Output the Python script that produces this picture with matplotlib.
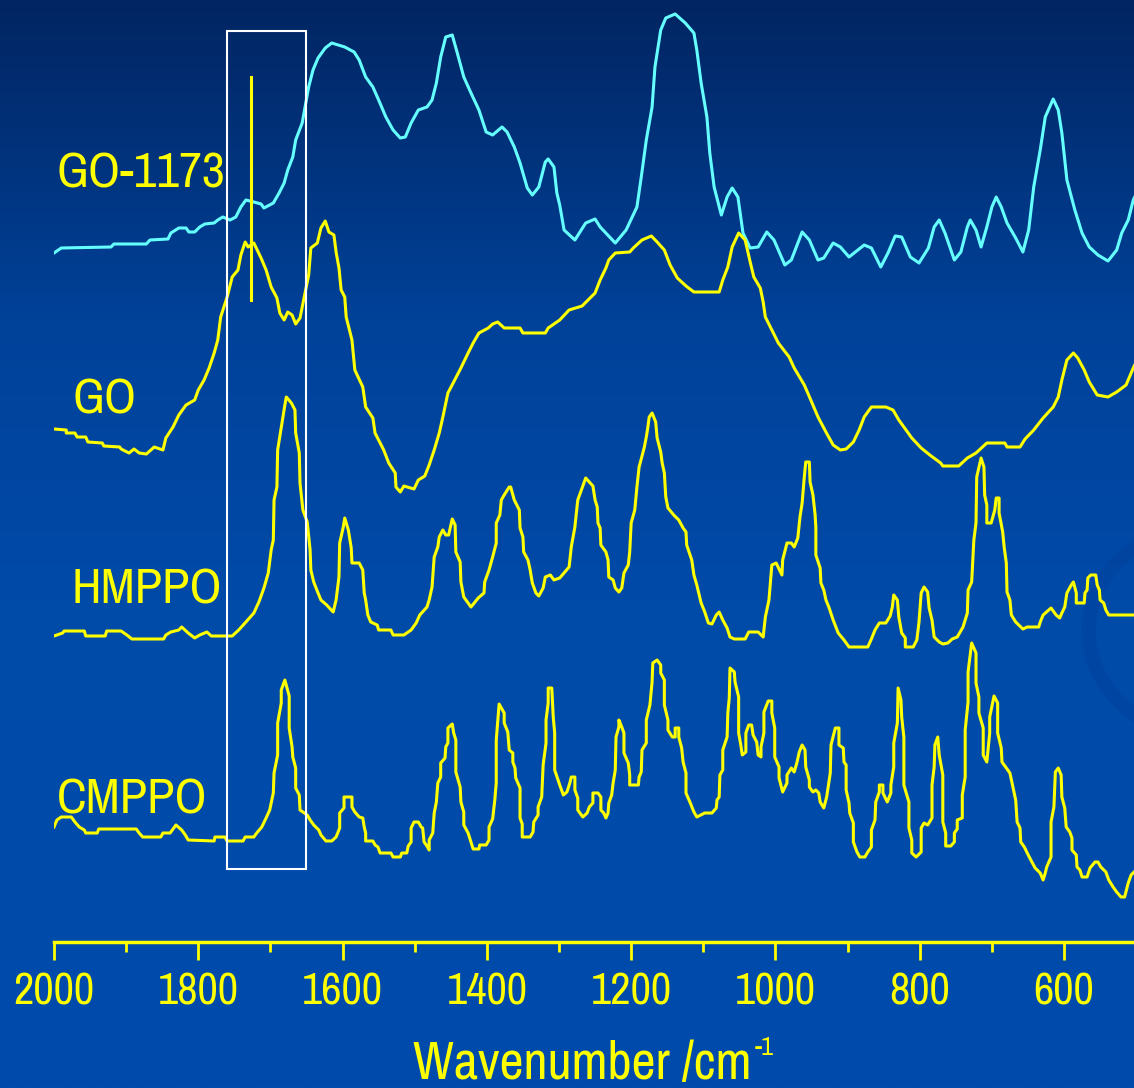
import numpy as np
import matplotlib.pyplot as plt
from matplotlib.colors import LinearSegmentedColormap
from matplotlib.patches import Rectangle, Ellipse

# FTIR spectra, stacked; (wavenumber cm-1, offset intensity a.u.)
go1173 = [(2000, 689), (1990, 694), (1921, 695), (1917, 698), (1872, 698), (1867, 702), (1842, 703), (1838, 709),
          (1827, 714), (1817, 714), (1813, 710), (1805, 710), (1798, 715), (1791, 718), (1778, 719), (1773, 722),
          (1766, 725), (1756, 722), (1748, 725), (1741, 735), (1734, 742), (1723, 740), (1713, 738), (1709, 734),
          (1696, 739), (1688, 749), (1681, 759), (1676, 772), (1669, 785), (1665, 802), (1656, 819), (1652, 835),
          (1647, 855), (1641, 872), (1634, 884), (1624, 894), (1615, 899), (1597, 895), (1584, 890), (1577, 882),
          (1568, 865), (1558, 855), (1550, 842), (1540, 825), (1530, 812), (1520, 804), (1513, 805), (1505, 819),
          (1495, 832), (1483, 835), (1476, 842), (1470, 859), (1464, 885), (1457, 905), (1448, 907), (1441, 889),
          (1432, 865), (1422, 849), (1411, 832), (1401, 810), (1392, 807), (1379, 815), (1372, 810), (1362, 795),
          (1354, 779), (1344, 754), (1337, 747), (1328, 755), (1319, 780), (1315, 783), (1307, 775), (1303, 749),
          (1299, 737), (1293, 712), (1278, 702), (1263, 719), (1250, 723), (1243, 715), (1222, 699), (1207, 712),
          (1192, 735), (1186, 765), (1179, 802), (1171, 835), (1167, 875), (1159, 912), (1152, 924), (1139, 928),
          (1125, 919), (1113, 909), (1109, 892), (1103, 859), (1095, 825), (1091, 789), (1085, 755), (1075, 727),
          (1067, 745), (1060, 754), (1052, 745), (1045, 709), (1035, 694), (1024, 695), (1012, 710), (1002, 702),
          (987, 677), (978, 682), (963, 710), (953, 702), (941, 682), (933, 684), (920, 699), (910, 695),
          (898, 685), (877, 697), (867, 694), (854, 675), (844, 689), (834, 706), (825, 705), (813, 685),
          (801, 679), (788, 694), (780, 715), (773, 722), (765, 709), (752, 682), (743, 690), (734, 715),
          (730, 722), (722, 712), (715, 695), (707, 715), (700, 735), (694, 745), (687, 735), (679, 719),
          (667, 704), (657, 690), (649, 712), (642, 755), (633, 792), (626, 825), (615, 843), (608, 832),
          (603, 809), (596, 762), (585, 732), (575, 709), (565, 695), (553, 687), (539, 681), (527, 692),
          (520, 709), (511, 722), (504, 742), (500, 748)]

go = [(2000, 513), (1983, 512), (1983, 509), (1971, 509), (1968, 505), (1956, 505), (1953, 500), (1933, 499),
      (1931, 496), (1909, 495), (1907, 493), (1896, 489), (1889, 493), (1882, 489), (1872, 488), (1861, 495),
      (1849, 492), (1845, 504), (1835, 515), (1827, 527), (1817, 537), (1805, 542), (1800, 552), (1792, 562),
      (1785, 574), (1778, 589), (1773, 602), (1769, 625), (1760, 645), (1753, 665), (1745, 672), (1741, 687),
      (1735, 700), (1731, 695), (1723, 699), (1713, 684), (1706, 672), (1699, 655), (1691, 644), (1687, 629),
      (1681, 622), (1676, 630), (1670, 627), (1665, 618), (1659, 624), (1652, 649), (1647, 667), (1644, 694),
      (1635, 699), (1630, 714), (1624, 721), (1619, 710), (1612, 707), (1609, 690), (1605, 674), (1602, 652),
      (1597, 645), (1595, 625), (1587, 602), (1583, 572), (1572, 555), (1568, 535), (1558, 524), (1555, 509),
      (1543, 492), (1536, 479), (1527, 469), (1526, 455), (1520, 450), (1515, 456), (1501, 453), (1495, 462),
      (1486, 466), (1480, 477), (1473, 492), (1466, 509), (1461, 525), (1454, 549), (1446, 560), (1436, 574),
      (1426, 589), (1419, 599), (1411, 609), (1398, 614), (1392, 618), (1385, 620), (1376, 614), (1354, 614),
      (1350, 609), (1319, 609), (1315, 614), (1299, 622), (1286, 632), (1268, 636), (1250, 649), (1243, 662),
      (1235, 674), (1231, 682), (1222, 689), (1202, 690), (1197, 694), (1185, 702), (1172, 706), (1164, 700),
      (1154, 692), (1146, 677), (1136, 664), (1124, 656), (1113, 650), (1078, 650), (1073, 662), (1066, 675),
      (1060, 695), (1051, 709), (1042, 702), (1035, 680), (1030, 665), (1021, 654), (1017, 640), (1014, 625),
      (1005, 612), (996, 599), (981, 585), (974, 574), (960, 557), (951, 542), (941, 525), (930, 510),
      (920, 497), (910, 492), (902, 493), (892, 500), (884, 512), (877, 525), (867, 535), (847, 535),
      (837, 532), (829, 522), (819, 512), (811, 504), (798, 494), (786, 487), (771, 479), (768, 476),
      (746, 476), (734, 484), (722, 489), (707, 499), (682, 499), (679, 495), (661, 495), (654, 503),
      (642, 512), (629, 524), (615, 535), (608, 545), (603, 562), (596, 582), (587, 589), (581, 584),
      (572, 572), (565, 560), (554, 547), (539, 545), (527, 550), (514, 557), (504, 574), (500, 580)]

hmppo = [(2000, 306), (1988, 309), (1986, 311), (1958, 311), (1956, 306), (1929, 306), (1927, 311), (1907, 311),
         (1899, 307), (1892, 303), (1848, 303), (1845, 307), (1838, 310), (1827, 312), (1823, 315), (1814, 309),
         (1805, 304), (1798, 307), (1788, 310), (1782, 306), (1753, 306), (1744, 312), (1734, 320), (1723, 329),
         (1716, 340), (1709, 354), (1703, 369), (1699, 392), (1696, 402), (1695, 442), (1691, 455), (1690, 492),
         (1684, 519), (1680, 537), (1678, 545), (1671, 539), (1666, 532), (1665, 509), (1660, 489), (1659, 459),
         (1655, 432), (1649, 420), (1645, 392), (1644, 372), (1640, 360), (1634, 349), (1630, 342), (1622, 337),
         (1613, 330), (1609, 342), (1605, 365), (1604, 399), (1599, 415), (1597, 424), (1592, 412), (1588, 394),
         (1587, 379), (1577, 379), (1572, 372), (1570, 349), (1568, 342), (1565, 327), (1561, 320), (1552, 317),
         (1550, 312), (1533, 312), (1530, 307), (1515, 307), (1505, 312), (1498, 319), (1493, 327), (1483, 335),
         (1480, 342), (1476, 355), (1473, 385), (1468, 395), (1466, 405), (1461, 412), (1457, 407), (1453, 407),
         (1448, 423), (1444, 417), (1443, 390), (1437, 380), (1436, 360), (1432, 345), (1422, 335), (1412, 344),
         (1404, 349), (1403, 360), (1397, 372), (1392, 385), (1387, 399), (1387, 419), (1382, 427), (1380, 442),
         (1376, 447), (1369, 455), (1367, 455), (1362, 442), (1355, 432), (1354, 414), (1350, 405), (1349, 390),
         (1343, 382), (1340, 372), (1337, 359), (1332, 349), (1328, 346), (1322, 354), (1319, 365), (1312, 367),
         (1307, 362), (1299, 364), (1286, 375), (1283, 395), (1278, 415), (1274, 442), (1268, 454), (1263, 464),
         (1253, 456), (1250, 442), (1247, 435), (1246, 419), (1243, 414), (1242, 397), (1235, 390), (1232, 382),
         (1231, 365), (1225, 362), (1222, 354), (1217, 350), (1213, 354), (1210, 369), (1204, 377), (1202, 390),
         (1200, 419), (1195, 432), (1192, 455), (1189, 475), (1182, 494), (1179, 505), (1177, 514), (1175, 525),
         (1171, 529), (1166, 520), (1164, 504), (1159, 490), (1157, 479), (1154, 469), (1152, 445), (1149, 434),
         (1141, 427), (1134, 422), (1128, 414), (1124, 410), (1123, 397), (1116, 382), (1113, 367), (1109, 357),
         (1103, 339), (1098, 330), (1093, 319), (1088, 318), (1082, 327), (1078, 330), (1073, 322), (1067, 314),
         (1063, 305), (1057, 303), (1042, 303), (1037, 310), (1024, 310), (1017, 305), (1014, 325), (1009, 342),
         (1005, 377), (999, 379), (991, 367), (990, 382), (984, 399), (978, 399), (974, 395), (969, 404),
         (966, 425), (963, 439), (960, 465), (958, 480), (953, 480), (952, 460), (948, 447), (945, 427),
         (944, 415), (944, 387), (938, 374), (937, 359), (933, 352), (930, 342), (926, 335), (920, 322),
         (913, 309), (905, 302), (898, 295), (872, 295), (867, 303), (862, 312), (856, 319), (847, 319),
         (841, 326), (838, 335), (836, 347), (831, 342), (829, 325), (825, 309), (820, 304), (820, 295),
         (809, 295), (804, 302), (801, 320), (798, 349), (794, 355), (789, 350), (787, 334), (783, 322),
         (780, 305), (773, 300), (768, 298), (761, 299), (755, 303), (748, 305), (740, 315), (734, 329),
         (733, 352), (728, 360), (725, 402), (722, 419), (721, 465), (715, 484), (711, 475), (710, 447),
         (707, 437), (707, 419), (701, 419), (696, 432), (694, 444), (690, 444), (690, 429), (685, 410),
         (683, 395), (680, 379), (679, 350), (675, 342), (673, 327), (667, 320), (657, 313), (651, 315),
         (635, 315), (633, 320), (629, 327), (618, 334), (611, 327), (606, 324), (603, 329), (599, 335),
         (596, 349), (590, 357), (587, 360), (583, 349), (583, 339), (572, 339), (571, 349), (568, 352),
         (567, 364), (563, 367), (556, 367), (554, 357), (551, 352), (550, 342), (545, 339), (542, 332),
         (538, 327), (500, 327)]

cmppo = [(2000, 115), (1996, 122), (1990, 125), (1976, 125), (1971, 120), (1965, 115), (1958, 112), (1956, 109),
         (1940, 109), (1938, 113), (1886, 113), (1882, 109), (1877, 105), (1852, 105), (1849, 109), (1839, 109),
         (1831, 117), (1823, 112), (1818, 107), (1814, 102), (1778, 101), (1777, 105), (1763, 105), (1760, 101),
         (1738, 101), (1735, 105), (1723, 105), (1719, 109), (1712, 115), (1706, 124), (1701, 132), (1696, 149),
         (1695, 169), (1690, 187), (1690, 219), (1685, 239), (1685, 252), (1680, 262), (1674, 246), (1674, 214),
         (1670, 195), (1669, 185), (1665, 174), (1665, 154), (1660, 147), (1659, 132), (1653, 129), (1649, 127),
         (1645, 122), (1640, 117), (1633, 112), (1630, 107), (1623, 101), (1615, 101), (1609, 105), (1604, 114),
         (1604, 129), (1598, 134), (1598, 145), (1587, 145), (1587, 135), (1583, 130), (1577, 125), (1572, 124),
         (1570, 115), (1568, 109), (1568, 101), (1558, 101), (1555, 97), (1551, 95), (1548, 89), (1533, 89),
         (1530, 85), (1520, 85), (1518, 89), (1511, 89), (1509, 96), (1505, 100), (1505, 114), (1501, 120),
         (1495, 120), (1491, 115), (1489, 114), (1487, 100), (1483, 96), (1480, 92), (1480, 102), (1475, 109),
         (1473, 129), (1470, 140), (1468, 159), (1464, 165), (1464, 179), (1458, 184), (1457, 195), (1454, 199),
         (1454, 214), (1448, 218), (1446, 209), (1443, 202), (1443, 170), (1437, 155), (1436, 140), (1432, 130),
         (1432, 117), (1426, 109), (1423, 102), (1419, 93), (1411, 93), (1410, 97), (1401, 97), (1397, 102),
         (1397, 115), (1392, 123), (1389, 142), (1387, 159), (1387, 202), (1383, 238), (1376, 229), (1376, 219),
         (1371, 210), (1369, 192), (1364, 189), (1364, 180), (1361, 174), (1360, 164), (1354, 154), (1354, 124),
         (1351, 118), (1351, 105), (1340, 105), (1336, 110), (1335, 120), (1329, 127), (1329, 135), (1324, 145),
         (1322, 177), (1318, 199), (1318, 222), (1315, 239), (1315, 254), (1310, 254), (1308, 225), (1306, 209),
         (1306, 172), (1299, 157), (1294, 147), (1289, 150), (1285, 159), (1283, 165), (1278, 165), (1278, 152),
         (1274, 144), (1274, 132), (1267, 125), (1261, 129), (1258, 135), (1253, 139), (1253, 149), (1246, 149),
         (1242, 145), (1242, 132), (1238, 129), (1235, 124), (1232, 129), (1231, 139), (1227, 147), (1225, 159),
         (1222, 172), (1221, 205), (1217, 215), (1217, 222), (1213, 215), (1210, 209), (1210, 189), (1204, 179),
         (1202, 167), (1202, 157), (1190, 157), (1189, 165), (1186, 170), (1185, 192), (1179, 199), (1179, 222),
         (1174, 237), (1171, 260), (1170, 279), (1164, 282), (1159, 277), (1159, 269), (1154, 262), (1154, 237),
         (1149, 222), (1149, 212), (1143, 205), (1139, 205), (1139, 214), (1134, 214), (1134, 205), (1130, 194),
         (1128, 180), (1124, 169), (1124, 149), (1118, 139), (1113, 130), (1109, 125), (1098, 129), (1088, 129),
         (1082, 134), (1081, 142), (1078, 145), (1077, 167), (1073, 172), (1073, 192), (1067, 205), (1066, 229),
         (1064, 244), (1063, 274), (1057, 270), (1056, 260), (1051, 245), (1051, 209), (1048, 197), (1046, 187),
         (1041, 190), (1041, 209), (1037, 217), (1033, 217), (1031, 207), (1026, 200), (1024, 187), (1020, 185),
         (1020, 195), (1016, 209), (1016, 230), (1010, 241), (1005, 241), (1005, 229), (1001, 214), (1001, 185),
         (995, 175), (995, 164), (990, 150), (984, 159), (984, 167), (978, 174), (974, 170), (970, 180),
         (967, 190), (963, 197), (959, 192), (958, 175), (953, 162), (953, 155), (948, 150), (944, 152),
         (940, 149), (938, 140), (933, 134), (929, 145), (924, 169), (923, 197), (917, 214), (912, 214),
         (912, 197), (906, 194), (905, 180), (902, 177), (902, 152), (898, 139), (897, 129), (892, 119),
         (892, 100), (887, 90), (883, 85), (876, 85), (872, 90), (867, 95), (867, 112), (862, 122),
         (861, 140), (856, 150), (856, 157), (851, 157), (851, 149), (845, 140), (840, 149), (840, 157),
         (836, 175), (836, 199), (831, 219), (830, 254), (826, 242), (825, 225), (822, 205), (822, 157),
         (815, 140), (815, 114), (811, 102), (811, 89), (805, 85), (798, 90), (798, 114), (794, 119),
         (789, 117), (783, 124), (783, 157), (780, 175), (779, 197), (775, 205), (773, 187), (768, 167),
         (768, 120), (764, 109), (764, 96), (757, 96), (752, 100), (752, 109), (748, 113), (748, 122),
         (741, 124), (741, 147), (737, 165), (737, 212), (733, 240), (733, 270), (728, 299), (722, 289),
         (722, 259), (718, 245), (718, 229), (712, 214), (712, 187), (707, 180), (705, 194), (703, 209),
         (703, 225), (697, 246), (692, 239), (692, 209), (687, 194), (686, 180), (680, 174), (675, 169),
         (672, 159), (667, 142), (665, 120), (661, 114), (660, 100), (655, 95), (651, 89), (646, 82),
         (640, 74), (633, 69), (629, 62), (626, 69), (624, 75), (618, 85), (618, 120), (614, 135),
         (612, 170), (608, 174), (604, 167), (603, 145), (599, 134), (597, 115), (592, 110), (589, 104),
         (589, 92), (583, 87), (582, 75), (578, 72), (575, 65), (568, 65), (564, 74), (557, 80),
         (553, 80), (549, 75), (542, 70), (538, 62), (532, 55), (527, 50), (521, 45), (516, 45),
         (511, 59), (507, 67), (503, 70), (500, 72)]

spectra = [go1173, go, hmppo, cmppo]
names = ['GO-1173', 'GO', 'HMPPO', 'CMPPO']
colors = ['#66ffff', '#ffff00', '#ffff00', '#ffff00']
# label anchor (wavenumber, intensity) for the sample names
label_pos = [(1996, 754), (1974, 529), (1976, 339), (1996, 129)]

box_wn = (1651, 1760)      # highlighted C=O region
box_int = (73, 911)
marker_wn = 1727
marker_int = (642, 865)

major_ticks = [2000, 1800, 1600, 1400, 1200, 1000, 800, 600]
minor_ticks = [1900, 1700, 1500, 1300, 1100, 900, 700]

NARROW = ['Archivo Narrow', 'Liberation Sans', 'DejaVu Sans']
plt.rcParams['font.family'] = NARROW

fig = plt.figure(figsize=(11.34, 10.88), dpi=100)

# slide-style blue gradient background
bg = fig.add_axes([0, 0, 1, 1], zorder=0)
cmap = LinearSegmentedColormap.from_list(
    'bg', [(0, '#022562'), (0.3, '#00429a'), (0.55, '#004aa8'), (1, '#004bac')])
bg.imshow(np.linspace(0, 1, 512)[:, None], aspect='auto', cmap=cmap,
          extent=[0, 1, 0, 1], origin='upper')
# faint swoosh at the right edge
bg.add_patch(Ellipse((1.06, 0.42), 0.2, 0.19, fill=False, ec='#003f98', lw=10, alpha=0.4))
bg.set_xlim(0, 1)
bg.set_ylim(0, 1)
bg.axis('off')

ax = fig.add_axes([54 / 1134, 146 / 1088, 1080 / 1134, 942 / 1088], zorder=1)
ax.patch.set_alpha(0)

for data, name, col, (lx, ly) in zip(spectra, names, colors, label_pos):
    wn, inten = zip(*data)
    ax.plot(wn, inten, color=col, lw=2.2)
    ax.text(lx, ly, name, color='#ffff00', fontsize=36, ha='left', va='baseline')

ax.add_patch(Rectangle((box_wn[0], box_int[0]), box_wn[1] - box_wn[0], box_int[1] - box_int[0],
                       fill=False, ec='white', lw=1.5, zorder=3))
ax.plot([marker_wn, marker_wn], marker_int, color='#ffff00', lw=2.2, zorder=4)

ax.set_xlim(2000, 503)
ax.set_ylim(0, 942)
ax.set_yticks([])
ax.set_xticks(major_ticks)
ax.set_xticks(minor_ticks, minor=True)
for s in ['top', 'left', 'right']:
    ax.spines[s].set_visible(False)
ax.spines['bottom'].set_color('#ffff00')
ax.spines['bottom'].set_linewidth(2.5)
ax.tick_params(axis='x', which='major', length=13, width=2, color='#ffff00',
               labelcolor='#ffff00', labelsize=32, pad=9)
ax.tick_params(axis='x', which='minor', length=7, width=2, color='#ffff00')

xlab = fig.text(413 / 1134, 9 / 1088, 'Wavenumber /cm', color='#ffff00',
                fontsize=38, ha='left', va='baseline')
fig.canvas.draw()
bb = xlab.get_window_extent()
fig.text((bb.x1 + 3) / 1134, 33 / 1088, '-1', color='#ffff00', fontsize=19,
         ha='left', va='baseline')

fig.savefig('out.png', dpi=100)
